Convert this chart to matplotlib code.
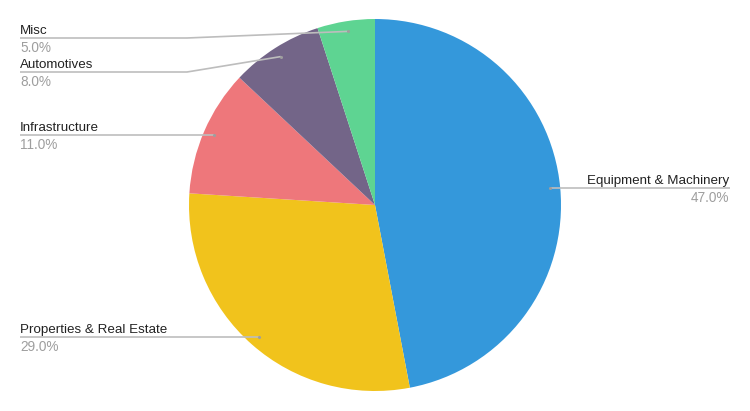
import matplotlib
matplotlib.use('Agg')
import matplotlib.pyplot as plt
import numpy as np

# data
labels = ['Equipment & Machinery', 'Properties & Real Estate', 'Infrastructure', 'Automotives', 'Misc']
shares = [47.0, 29.0, 11.0, 8.0, 5.0]
colors = ['#3498db', '#f1c31c', '#ee777b', '#736588', '#5ed492']

W, H = 750, 411
cx, cy, R = 375, 205, 186

plt.rcParams['font.family'] = ['Liberation Sans', 'DejaVu Sans']

fig = plt.figure(figsize=(W / 100, H / 100), dpi=100)
ax = fig.add_axes([0, 0, 1, 1])

wedges, _ = ax.pie(shares, colors=colors, startangle=90, counterclock=False,
                   center=(cx, H - cy), radius=R, frame=True)
ax.set_xlim(0, W)
ax.set_ylim(0, H)
ax.set_aspect('equal')
ax.axis('off')

# label layout: side, y of label line (px from top, None = same as dot)
layout = {
    'Equipment & Machinery': ('right', None),
    'Properties & Real Estate': ('left', None),
    'Infrastructure': ('left', None),
    'Automotives': ('left', 72),
    'Misc': ('left', 38),
}
line_c = '#bdbdbd'
kink_x = 187

for w, name, val in zip(wedges, labels, shares):
    mid = np.deg2rad((w.theta1 + w.theta2) / 2)
    dx = cx + 0.945 * R * np.cos(mid)
    dy = (H - cy) + 0.945 * R * np.sin(mid)
    side, ly = layout[name]
    ly = dy if ly is None else H - ly
    if side == 'right':
        xs, ys = [dx, 730], [dy, ly]
        tx, ha = 729, 'right'
    else:
        if abs(ly - dy) > 1:
            xs, ys = [dx, kink_x, 20], [dy, ly, ly]
        else:
            xs, ys = [dx, 20], [dy, ly]
        tx, ha = 20, 'left'
    ax.plot(xs, ys, color=line_c, lw=1.2, solid_capstyle='butt')
    ax.plot([dx], [dy], 'o', color='#9e9e9e', ms=2.2, mec='none')
    ax.text(tx, ly + 4, name, ha=ha, va='baseline', fontsize=9.6, color='#222222')
    ax.text(tx, ly - 14, f'{val:.1f}%', ha=ha, va='baseline', fontsize=9.8, color='#9e9e9e')

fig.savefig('out.png', dpi=100, facecolor='white')
